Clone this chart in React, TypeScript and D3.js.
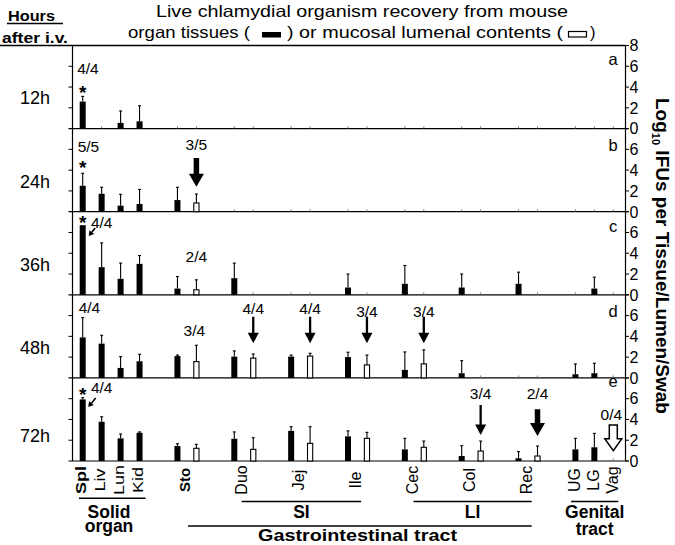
import React from "react";
import * as d3 from "d3";

// ---------- data ----------
const sites = ["Spl", "Liv", "Lun", "Kid", "Sto", "Duo", "Jej", "Ile", "Cec", "Col", "Rec", "UG", "LG", "Vag"];
const lumenSites = ["Sto", "Duo", "Jej", "Ile", "Cec", "Col", "Rec"];
const slotOrder = [
  "T:Spl", "T:Liv", "T:Lun", "T:Kid", "gap1",
  "T:Sto", "L:Sto", "gap2",
  "T:Duo", "L:Duo", "gap3",
  "T:Jej", "L:Jej", "gap4",
  "T:Ile", "L:Ile", "gap5",
  "T:Cec", "L:Cec", "gap6",
  "T:Col", "L:Col", "gap7",
  "T:Rec", "L:Rec", "gap8",
  "T:UG", "T:LG", "T:Vag",
];
const hourLabels = ["12h", "24h", "36h", "48h", "72h"];
const panelLetters = ["a", "b", "c", "d", "e"];
const hourLabelLevel = [3.04, 2.86, 2.87, 2.97, 2.5];
const letterLevel = [6.5, 6.2, 6.4, 6.24, 7.5];
const yTickValues = [0, 2, 4, 6, 8];

// tissue means / error-bar tops per panel (aligned with sites)
const tissue12h = [2.6, null, 0.55, 0.7, null, null, null, null, null, null, null, null, null, null];
const tissueErr12h = [3.1, null, 1.7, 2.2, null, null, null, null, null, null, null, null, null, null];
const tissue24h = [2.5, 1.73, 0.58, 0.74, 1.12, null, null, null, null, null, null, null, null, null];
const tissueErr24h = [3.7, 2.35, 1.67, 2.15, 2.35, null, null, null, null, null, null, null, null, null];
const tissue36h = [6.7, 2.66, 1.54, 2.98, 0.6, 1.6, null, 0.7, 1.06, 0.7, 1.06, null, 0.6, null];
const tissueErr36h = [6.7, 5.0, 3.05, 3.78, 1.76, 3.05, null, 2.0, 2.82, 2.0, 2.18, null, 1.7, null];
const tissue48h = [3.9, 3.3, 0.96, 1.6, 2.1, 2.05, 2.05, 2.0, 0.77, 0.45, null, 0.35, 0.45, null];
const tissueErr48h = [5.8, 4.1, 2.05, 2.28, 2.2, 2.6, 2.2, 2.47, 2.5, 1.66, null, 1.35, 1.41, null];
const tissue72h = [5.93, 3.78, 2.18, 2.72, 1.44, 2.14, 2.9, 2.37, 1.12, 0.48, 0.26, 1.12, 1.32, null];
const tissueErr72h = [6.1, 4.26, 2.6, 2.8, 1.66, 2.8, 3.3, 2.9, 2.18, 1.47, 0.9, 2.18, 2.66, null];

// lumen means / error-bar tops per panel (aligned with lumenSites)
const lumen12h = [null, null, null, null, null, null, null];
const lumenErr12h = [null, null, null, null, null, null, null];
const lumen24h = [0.84, null, null, null, null, null, null];
const lumenErr24h = [1.7, null, null, null, null, null, null];
const lumen36h = [0.48, null, null, null, null, null, null];
const lumenErr36h = [1.44, null, null, null, null, null, null];
const lumen48h = [1.57, 1.9, 2.1, 1.25, 1.35, null, null];
const lumenErr48h = [3.14, 2.3, 2.37, 2.2, 2.7, null, null];
const lumen72h = [1.22, 1.12, 1.7, 2.18, 1.32, 0.96, 0.48];
const lumenErr72h = [1.6, 2.24, 3.3, 2.76, 1.92, 1.92, 1.44];

const tissueMeans = [tissue12h, tissue24h, tissue36h, tissue48h, tissue72h];
const tissueErrs = [tissueErr12h, tissueErr24h, tissueErr36h, tissueErr48h, tissueErr72h];
const lumenMeans = [lumen12h, lumen24h, lumen36h, lumen48h, lumen72h];
const lumenErrs = [lumenErr12h, lumenErr24h, lumenErr36h, lumenErr48h, lumenErr72h];

const fractionTexts = [
  { panel: 0, key: "T:Spl", text: "4/4", v: 5.83, dx: -5.5, anchor: "start" },
  { panel: 1, key: "T:Spl", text: "5/5", v: 6.32, dx: -5, anchor: "start" },
  { panel: 1, key: "L:Sto", text: "3/5", v: 6.5, dx: 0, anchor: "middle" },
  { panel: 2, key: "T:Spl", text: "4/4", v: 7.0, dx: 19, anchor: "middle" },
  { panel: 2, key: "L:Sto", text: "2/4", v: 3.64, dx: 0, anchor: "middle" },
  { panel: 3, key: "T:Spl", text: "4/4", v: 6.73, dx: -4, anchor: "start" },
  { panel: 3, key: "L:Sto", text: "3/4", v: 4.61, dx: -2, anchor: "middle" },
  { panel: 3, key: "L:Duo", text: "4/4", v: 6.7, dx: 0, anchor: "middle" },
  { panel: 3, key: "L:Jej", text: "4/4", v: 6.7, dx: 0, anchor: "middle" },
  { panel: 3, key: "L:Ile", text: "3/4", v: 6.41, dx: 0, anchor: "middle" },
  { panel: 3, key: "L:Cec", text: "3/4", v: 6.41, dx: 0, anchor: "middle" },
  { panel: 4, key: "T:Spl", text: "4/4", v: 7.03, dx: 19, anchor: "middle" },
  { panel: 4, key: "L:Col", text: "3/4", v: 6.54, dx: 0, anchor: "middle" },
  { panel: 4, key: "L:Rec", text: "2/4", v: 6.54, dx: 0, anchor: "middle" },
  { panel: 4, key: "T:Vag", text: "0/4", v: 4.52, dx: -2, anchor: "middle" },
];
const stars = [
  { panel: 0, v: 3.86 },
  { panel: 1, v: 4.64 },
  { panel: 2, v: 7.3 },
  { panel: 4, v: 6.83 },
];
const arrows = [
  { panel: 1, key: "L:Sto", from: 5.17, to: 2.41, style: "bold" },
  { panel: 3, key: "L:Duo", from: 5.89, to: 3.33, style: "thin" },
  { panel: 3, key: "L:Jej", from: 5.89, to: 3.33, style: "thin" },
  { panel: 3, key: "L:Ile", from: 5.89, to: 3.33, style: "thin" },
  { panel: 3, key: "L:Cec", from: 5.89, to: 3.33, style: "thin" },
  { panel: 4, key: "L:Col", from: 5.39, to: 2.5, style: "thin" },
  { panel: 4, key: "L:Rec", from: 4.98, to: 2.41, style: "bold" },
  { panel: 4, key: "T:Vag", from: 3.46, to: 0.99, style: "open" },
];
const smallArrows = [
  { panel: 2, fromDx: 12.5, fromV: 6.43, toDx: 6, toV: 5.66 },
  { panel: 4, fromDx: 13, fromV: 6.06, toDx: 5.5, toV: 5.2 },
];
const siteLabelBold = ["Spl", "Sto"];
const siteLabelCondensed = ["Spl", "Liv", "Lun", "Kid"];
const brackets = [
  { lines: ["Solid", "organ"], from: "T:Spl", to: "T:Kid", padL: -3.7, padR: 6, level: 0 },
  { lines: ["SI"], from: "T:Duo", to: "L:Ile", padL: 7.4, padR: -5.8, level: 1 },
  { lines: ["LI"], from: "T:Cec", to: "L:Rec", padL: 8.7, padR: -5.8, level: 1 },
  { lines: ["Genital", "tract"], from: "T:UG", to: "T:Vag", padL: -4.3, padR: 5, level: 1 },
  { lines: ["Gastrointestinal tract"], from: "T:Sto", to: "L:Rec", padL: 10.6, padR: -5.8, level: 2 },
];

// ---------- layout ----------
const W = 675;
const H = 545;
const plotLeft = 72.5;
const plotRight = 625.5;
const panelTop0 = 45.5;
const panelH = 83.1;
const FONT = "Liberation Sans, Arial, Helvetica, sans-serif";

export default function App() {
  const x = d3.scalePoint<string>().domain(slotOrder).range([82.7, 613.3]);
  const yScales = hourLabels.map((_, i) =>
    d3.scaleLinear().domain([0, 8]).range([panelTop0 + (i + 1) * panelH, panelTop0 + i * panelH])
  );
  const bottom = panelTop0 + 5 * panelH;
  const realSlots = slotOrder.filter((k) => !k.startsWith("gap"));

  const bar = (key: string, mean: number | null, err: number | null, y: any, open: boolean, k: string) => {
    if (mean == null) return null;
    const cx = x(key)!;
    const y0 = y(0);
    const ym = y(mean);
    const ye = err != null ? y(err) : ym;
    return (
      <g key={k}>
        {err != null && err > mean && (
          <g stroke="#000" strokeWidth={1.1}>
            <line x1={cx} x2={cx} y1={ym} y2={ye} />
            <line x1={cx - 1.5} x2={cx + 1.5} y1={ye} y2={ye} />
          </g>
        )}
        {open ? (
          <rect x={cx - 2.6} y={ym} width={5.2} height={y0 - ym} fill="#fff" stroke="#000" strokeWidth={1.1} />
        ) : (
          <rect x={cx - 3} y={ym} width={6} height={y0 - ym} fill="#000" />
        )}
      </g>
    );
  };

  const vArrow = (a: any, i: number) => {
    const y = yScales[a.panel];
    const cx = x(a.key)!;
    const y1 = y(a.from);
    const y2 = y(a.to);
    if (a.style === "thin") {
      const hh = 10.5;
      return (
        <g key={"ar" + i}>
          <line x1={cx} x2={cx} y1={y1} y2={y2 - hh + 1} stroke="#000" strokeWidth={2.3} />
          <polygon points={`${cx - 5.5},${y2 - hh} ${cx + 5.5},${y2 - hh} ${cx},${y2}`} fill="#000" />
        </g>
      );
    }
    const sw = a.style === "bold" ? 5.5 : 8;
    const hw = a.style === "bold" ? 15 : 17;
    const hh = a.style === "bold" ? 13 : 12;
    const pts = [
      [cx - sw / 2, y1], [cx + sw / 2, y1], [cx + sw / 2, y2 - hh], [cx + hw / 2, y2 - hh],
      [cx, y2], [cx - hw / 2, y2 - hh], [cx - sw / 2, y2 - hh],
    ].map((p) => p.join(",")).join(" ");
    return (
      <polygon key={"ar" + i} points={pts}
        fill={a.style === "bold" ? "#000" : "#fff"} stroke="#000" strokeWidth={a.style === "bold" ? 0 : 1.5} strokeLinejoin="miter" />
    );
  };

  const diagArrow = (a: any, i: number) => {
    const y = yScales[a.panel];
    const sx = x("T:Spl")!;
    const x1 = sx + a.fromDx, y1 = y(a.fromV), x2 = sx + a.toDx, y2 = y(a.toV);
    const ang = Math.atan2(y2 - y1, x2 - x1);
    const hl = 5, hw = 3;
    const bx = x2 - hl * Math.cos(ang), by = y2 - hl * Math.sin(ang);
    const px = -Math.sin(ang) * hw, py = Math.cos(ang) * hw;
    return (
      <g key={"da" + i}>
        <line x1={x1} y1={y1} x2={bx} y2={by} stroke="#000" strokeWidth={1.6} />
        <polygon points={`${x2},${y2} ${bx + px},${by + py} ${bx - px},${by - py}`} fill="#000" />
      </g>
    );
  };

  const labelX = (site: string) => {
    if (lumenSites.includes(site)) return (x("T:" + site)! + x("L:" + site)!) / 2 - 2;
    return x("T:" + site)! - 1;
  };

  return (
    <svg width={W} height={H} viewBox={`0 0 ${W} ${H}`} style={{ position: "absolute", left: 0, top: 0, background: "#fff" }}
      fontFamily={FONT}>
      <rect width={W} height={H} fill="#fff" />
      {/* title */}
      <text x={156} y={17} fontSize={16.5} textLength={412} lengthAdjust="spacingAndGlyphs">
        Live chlamydial organism recovery from mouse
      </text>
      <text x={128} y={38} fontSize={16.5} textLength={122} lengthAdjust="spacingAndGlyphs">organ tissues (</text>
      <rect x={262} y={32} width={19} height={5.5} fill="#000" />
      <text x={287} y={38} fontSize={16.5} textLength={276} lengthAdjust="spacingAndGlyphs">) or mucosal lumenal contents (</text>
      <rect x={568.5} y={31.5} width={18} height={5.5} fill="#fff" stroke="#000" strokeWidth={1.2} />
      <text x={590} y={38} fontSize={16.5}>)</text>

      {/* Hours header */}
      <text x={8} y={20.5} fontSize={15.5} fontWeight="bold" textLength={47} lengthAdjust="spacingAndGlyphs">Hours</text>
      <line x1={7} x2={63} y1={23.5} y2={23.5} stroke="#000" strokeWidth={1.5} />
      <text x={2} y={43} fontSize={15.5} fontWeight="bold" textLength={66} lengthAdjust="spacingAndGlyphs">after i.v.</text>

      {/* top line */}
      <line x1={0} x2={plotRight} y1={panelTop0} y2={panelTop0} stroke="#000" strokeWidth={1.4} />

      {yScales.map((y, p) => (
        <g key={"panel" + p}>
          {/* baseline */}
          <line x1={plotLeft - 4} x2={plotRight + 3} y1={y(0)} y2={y(0)} stroke="#000" strokeWidth={1.2} />
          {/* small x ticks */}
          {realSlots.map((k) => (
            <line key={k} x1={x(k)} x2={x(k)} y1={y(0)} y2={y(0) - 2.5} stroke="#666" strokeWidth={0.8} />
          ))}
          {/* left ticks */}
          {yTickValues.filter((v) => v > 0 && v < 8).map((v) => (
            <line key={"lt" + v} x1={plotLeft - 4} x2={plotLeft} y1={y(v)} y2={y(v)} stroke="#000" strokeWidth={1} />
          ))}
          {/* right ticks & labels */}
          {yTickValues.filter((v) => p === 0 || v < 8).map((v) => (
            <g key={"rt" + v}>
              <line x1={plotRight} x2={plotRight + 3.5} y1={y(v)} y2={y(v)} stroke="#000" strokeWidth={1} />
              <text x={plotRight + 4} y={y(v) + 5.8} fontSize={16}>{v}</text>
            </g>
          ))}
          {/* hour label */}
          <text x={35} y={y(hourLabelLevel[p]) + 6.5} fontSize={18} textAnchor="middle">{hourLabels[p]}</text>
          {/* panel letter */}
          <text x={613} y={y(letterLevel[p]) + 4} fontSize={16.5} textAnchor="middle">{panelLetters[p]}</text>
          {/* tissue bars */}
          {sites.map((s, j) => bar("T:" + s, tissueMeans[p][j], tissueErrs[p][j], y, false, "t" + s))}
          {/* lumen bars */}
          {lumenSites.map((s, j) => bar("L:" + s, lumenMeans[p][j], lumenErrs[p][j], y, true, "l" + s))}
        </g>
      ))}

      {/* axes verticals */}
      <line x1={plotLeft} x2={plotLeft} y1={panelTop0} y2={bottom} stroke="#000" strokeWidth={1.2} />
      <line x1={plotRight} x2={plotRight} y1={panelTop0} y2={bottom} stroke="#000" strokeWidth={1.2} />

      {/* annotations */}
      {fractionTexts.map((f, i) => (
        <text key={"f" + i} x={x(f.key)! + f.dx} y={yScales[f.panel](f.v) + 5.5} fontSize={15.5} textAnchor={f.anchor as any}>
          {f.text}
        </text>
      ))}
      {stars.map((s, i) => (
        <text key={"s" + i} x={x("T:Spl")!} y={yScales[s.panel](s.v) + 10.5} fontSize={19} fontWeight="bold" textAnchor="middle">*</text>
      ))}
      {arrows.map(vArrow)}
      {smallArrows.map(diagArrow)}

      {/* right axis title */}
      <text transform="translate(656,256) rotate(90)" fontSize={19} fontWeight="bold" textAnchor="middle">
        Log<tspan fontSize={11} dy={4}>10</tspan><tspan dy={-4}> IFUs per Tissue/Lumen/Swab</tspan>
      </text>

      {/* site labels */}
      {sites.map((s) => {
        const bold = siteLabelBold.includes(s);
        const cond = siteLabelCondensed.includes(s);
        const fs = cond ? 18 : bold ? 15 : 16;
        const lx = labelX(s) + (cond ? 4.5 : 5.5);
        return (
          <text key={"lab" + s} transform={`translate(${lx},480) rotate(-90) scale(1,${cond ? 0.78 : 1})`}
            fontSize={fs} fontWeight={bold ? "bold" : "normal"} textAnchor="middle">{s}</text>
        );
      })}

      {/* brackets */}
      {brackets.map((b, i) => {
        const x1 = x(b.from)! + b.padL;
        const x2 = x(b.to)! + b.padR;
        const ly = b.level === 0 ? 498.3 : b.level === 1 ? 501.5 : 526;
        const cx = b.level === 2 ? 357.5 : b.level === 0 ? 109 : (x1 + x2) / 2;
        const lineGap = b.level === 0 ? 14 : 17;
        return (
          <g key={"br" + i}>
            <line x1={x1} x2={x2} y1={ly} y2={ly} stroke="#000" strokeWidth={1.4} />
            <text x={cx} y={b.level === 2 ? 541 : 518}
              fontSize={b.level === 2 ? 17 : 17.5} fontWeight="bold" textAnchor="middle"
              {...(b.level === 2 ? { textLength: 199, lengthAdjust: "spacingAndGlyphs" } : {})}>
              {b.lines.map((t, k) => (
                <tspan key={k} x={cx} dy={k === 0 ? 0 : lineGap}>{t}</tspan>
              ))}
            </text>
          </g>
        );
      })}
    </svg>
  );
}
